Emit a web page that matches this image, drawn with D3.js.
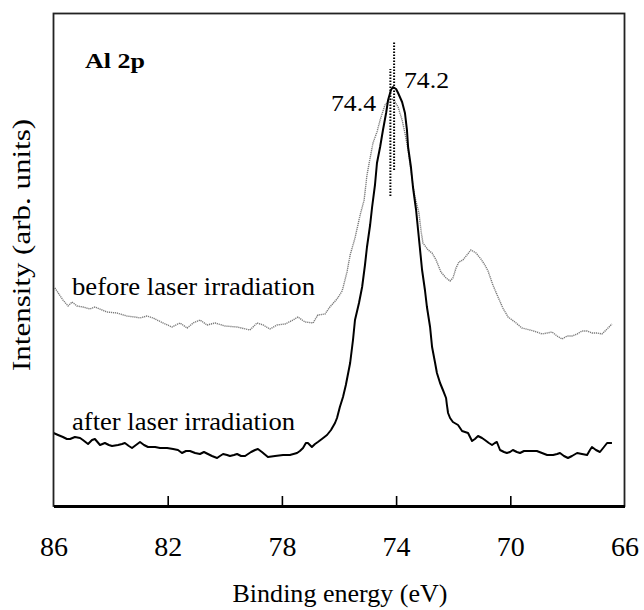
<!DOCTYPE html>
<html>
<head>
<meta charset="utf-8">
<script src="https://cdn.jsdelivr.net/npm/d3@7"></script>
</head>
<body style="margin:0">
<div id="chart"></div>
<script>
// x axis (binding energy, eV) - reversed
const xTicks = [86, 82, 78, 74, 70, 66];

// peak markers: [energy, intensity from, intensity to]
const peakMarkers = [[74.2, 310, 437], [74.07, 336, 464]];
const peakLabels = ['74.4', '74.2'];

// spectrum before laser irradiation: [energy eV, intensity arb.]
const beforeSpectrum = [
    [85.95, 218], [85.67, 206], [85.49, 200], [85.35, 204], [85.18, 200], [84.97, 199],
    [84.72, 197], [84.55, 199], [84.30, 196], [84.13, 194], [83.78, 193], [83.43, 190],
    [83.15, 189], [82.97, 188], [82.73, 190], [82.51, 188], [82.16, 183], [81.85, 179],
    [81.57, 183], [81.32, 178], [81.11, 183], [80.87, 186], [80.62, 181], [80.34, 183],
    [79.99, 180], [79.57, 179], [79.12, 176], [78.87, 183], [78.66, 181], [78.42, 177],
    [78.17, 181], [77.89, 182], [77.61, 186], [77.44, 189], [77.19, 184], [76.91, 183],
    [76.74, 191], [76.49, 192], [76.32, 199], [76.07, 207], [75.89, 215], [75.72, 234],
    [75.61, 251], [75.44, 268], [75.26, 291], [75.12, 306], [75.02, 331], [74.91, 348],
    [74.81, 363], [74.67, 374], [74.56, 386], [74.39, 401], [74.25, 406], [74.14, 407],
    [74.04, 404], [73.93, 399], [73.79, 386], [73.69, 373], [73.58, 356], [73.51, 341],
    [73.41, 321], [73.34, 309], [73.20, 293], [73.13, 276], [73.06, 263], [72.88, 256],
    [72.74, 253], [72.60, 246], [72.43, 234], [72.25, 228], [72.11, 225], [72.01, 228],
    [71.90, 238], [71.80, 244], [71.66, 246], [71.52, 251], [71.38, 256], [71.20, 253],
    [71.03, 247], [70.89, 241], [70.78, 235], [70.61, 221], [70.43, 209], [70.26, 198],
    [70.08, 189], [69.84, 184], [69.59, 178], [69.31, 176], [69.07, 174], [68.89, 172],
    [68.71, 173], [68.54, 174], [68.36, 170], [68.19, 167], [68.01, 170], [67.84, 170],
    [67.66, 172], [67.49, 175], [67.31, 175], [67.14, 173], [66.96, 173], [66.79, 172],
    [66.61, 177], [66.44, 182]
];

// spectrum after laser irradiation
const afterSpectrum = [
    [86.00, 73], [85.84, 71], [85.67, 69], [85.53, 67], [85.42, 67], [85.25, 69],
    [85.07, 68], [84.97, 66], [84.79, 62], [84.65, 66], [84.55, 67], [84.37, 61],
    [84.20, 63], [84.06, 61], [83.95, 60], [83.74, 61], [83.60, 62], [83.50, 63],
    [83.36, 60], [83.25, 58], [83.11, 61], [82.97, 64], [82.83, 61], [82.69, 59],
    [82.44, 59], [82.27, 58], [82.02, 58], [81.81, 57], [81.64, 56], [81.50, 53],
    [81.36, 55], [81.22, 55], [81.04, 53], [80.87, 52], [80.73, 54], [80.59, 52],
    [80.45, 50], [80.27, 48], [80.17, 50], [80.06, 52], [79.92, 51], [79.82, 50],
    [79.68, 51], [79.57, 52], [79.43, 50], [79.29, 50], [79.08, 54], [78.94, 56],
    [78.84, 57], [78.70, 54], [78.49, 49], [78.24, 50], [77.96, 51], [77.72, 51],
    [77.47, 53], [77.37, 55], [77.26, 58], [77.16, 63], [77.09, 63], [77.02, 61],
    [76.95, 59], [76.84, 62], [76.74, 64], [76.60, 67], [76.42, 71], [76.28, 76],
    [76.14, 83], [76.07, 88], [75.97, 99], [75.86, 109], [75.76, 121], [75.61, 143],
    [75.51, 166], [75.44, 186], [75.30, 203], [75.19, 219], [75.09, 241], [75.02, 259],
    [74.91, 281], [74.84, 299], [74.74, 321], [74.67, 343], [74.56, 359], [74.46, 376],
    [74.35, 393], [74.28, 406], [74.18, 416], [74.11, 419], [74.00, 417], [73.93, 413],
    [73.79, 404], [73.69, 393], [73.62, 376], [73.58, 359], [73.48, 339], [73.41, 319],
    [73.30, 296], [73.23, 276], [73.16, 256], [73.09, 236], [72.99, 216], [72.92, 199],
    [72.81, 179], [72.74, 159], [72.64, 144], [72.57, 133], [72.46, 123], [72.36, 116],
    [72.25, 108], [72.22, 101], [72.18, 93], [72.11, 88], [72.01, 84], [71.83, 81],
    [71.69, 75], [71.48, 73], [71.34, 65], [71.24, 67], [71.13, 70], [70.99, 68],
    [70.89, 66], [70.75, 63], [70.64, 61], [70.54, 63], [70.47, 64], [70.36, 56],
    [70.22, 54], [70.12, 53], [70.01, 54], [69.91, 56], [69.77, 54], [69.66, 53],
    [69.52, 55], [69.42, 55], [69.24, 55], [69.07, 55], [68.89, 53], [68.71, 51],
    [68.50, 51], [68.36, 52], [68.26, 53], [68.12, 50], [67.98, 48], [67.84, 50],
    [67.66, 53], [67.49, 52], [67.31, 51], [67.21, 56], [67.14, 59], [67.00, 56],
    [66.86, 54], [66.72, 59], [66.61, 63], [66.44, 63]
];

const width = 644;
const height = 610;
const margin = { top: 13.5, right: 19.5, bottom: 104, left: 53.5 };
const chartWidth = width - margin.left - margin.right;
const chartHeight = height - margin.top - margin.bottom;
const serif = '"Liberation Serif"';

const svg = d3.select('#chart')
    .append('svg')
    .attr('width', width)
    .attr('height', height)
    .style('font-family', serif);

const x = d3.scaleLinear()
    .domain([86, 66])
    .range([0, chartWidth]);

const y = d3.scaleLinear()
    .domain([0, 492.5])
    .range([chartHeight, 0]);

const g = svg.append('g')
    .attr('transform', `translate(${margin.left}, ${margin.top})`);

const line = d3.line()
    .x(d => x(d[0]))
    .y(d => y(d[1]));

// before (grey dotted trace)
g.append('path')
    .datum(beforeSpectrum)
    .attr('fill', 'none')
    .attr('stroke', '#7a7a7a')
    .attr('stroke-width', 1.4)
    .attr('stroke-dasharray', '1.2,0.8')
    .attr('d', line);

// after (solid black)
g.append('path')
    .datum(afterSpectrum)
    .attr('fill', 'none')
    .attr('stroke', '#000')
    .attr('stroke-width', 2)
    .attr('stroke-linejoin', 'round')
    .attr('d', line);

// dotted peak markers
g.selectAll('line.peak')
    .data(peakMarkers)
    .enter().append('line')
    .attr('class', 'peak')
    .attr('x1', d => x(d[0]))
    .attr('x2', d => x(d[0]))
    .attr('y1', d => y(d[1]))
    .attr('y2', d => y(d[2]))
    .attr('stroke', '#000')
    .attr('stroke-width', 2)
    .attr('stroke-dasharray', '1.5,1.5');

// frame
g.append('rect')
    .attr('width', chartWidth)
    .attr('height', chartHeight)
    .attr('fill', 'none')
    .attr('stroke', '#222')
    .attr('stroke-width', 1.8);

// x axis with inward ticks
const xAxis = d3.axisBottom(x)
    .tickValues(xTicks)
    .tickSizeInner(-10)
    .tickSizeOuter(0)
    .tickPadding(30)
    .tickFormat(d3.format('d'));

const xg = g.append('g')
    .attr('transform', `translate(0, ${chartHeight})`)
    .call(xAxis);
xg.attr('font-family', null).attr('font-size', null);
xg.select('.domain').attr('stroke', '#000').attr('stroke-width', 3);
xg.selectAll('.tick line').attr('stroke-width', 1.6)
    .filter(d => d === 86 || d === 66).remove();
xg.selectAll('.tick text')
    .style('font-family', serif)
    .style('font-size', '28px')
    .attr('fill', '#000');

// annotations: [text, x px, baseline px, size, weight, width px]
const notes = [
    ['Al 2p', 85, 68, 20, 'bold', 60],
    [peakLabels[0], 331, 111, 23, 'normal', 45],
    [peakLabels[1], 404, 88, 23, 'normal', 45],
    ['before laser irradiation', 72, 295, 25.5, 'normal', 243],
    ['after laser irradiation', 72, 430, 25.5, 'normal', 223]
];

svg.selectAll('text.note')
    .data(notes)
    .enter().append('text')
    .attr('class', 'note')
    .attr('x', d => d[1])
    .attr('y', d => d[2])
    .attr('textLength', d => d[5])
    .attr('lengthAdjust', 'spacingAndGlyphs')
    .style('font-family', serif)
    .style('font-size', d => d[3] + 'px')
    .style('font-weight', d => d[4])
    .text(d => d[0]);

// axis titles
svg.append('text')
    .attr('x', 340)
    .attr('y', 602)
    .attr('text-anchor', 'middle')
    .attr('textLength', 215)
    .attr('lengthAdjust', 'spacingAndGlyphs')
    .style('font-family', serif)
    .style('font-size', '25px')
    .text('Binding energy (eV)');

svg.append('text')
    .attr('transform', 'translate(30, 245) rotate(-90)')
    .attr('text-anchor', 'middle')
    .attr('textLength', 252)
    .attr('lengthAdjust', 'spacingAndGlyphs')
    .style('font-family', serif)
    .style('font-size', '25px')
    .text('Intensity (arb. units)');
</script>
</body>
</html>
